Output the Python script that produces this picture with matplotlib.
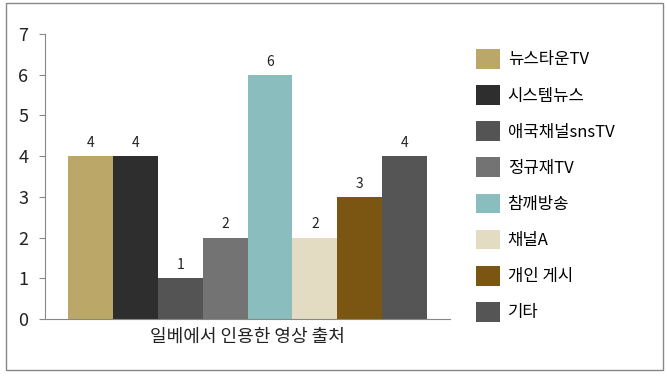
import numpy as np
import matplotlib.pyplot as plt
from matplotlib.patches import Rectangle

plt.rcParams['font.family'] = ['Noto Sans CJK KR', 'DejaVu Sans']

# dati
sources = ['뉴스타운TV', '시스템뉴스', '애국채널snsTV', '정규재TV', '참깨방송', '채널A', '개인 게시', '기타']
counts = [4, 4, 1, 2, 6, 2, 3, 4]
colors = ['#BBA768', '#2E2E2E', '#545454', '#737373', '#8ABDBD', '#E3DCC2', '#7B5612', '#555555']
xlabel = '일베에서 인용한 영상 출처'

fig = plt.figure(figsize=(6.67, 3.77), dpi=100)
ax = fig.add_axes([45 / 667, 1 - 319 / 377, (450 - 45) / 667, (319 - 34) / 377])

x = np.arange(len(counts))
bars = ax.bar(x, counts, width=1.0, color=colors, label=sources)
for xi, v in zip(x, counts):
    ax.text(xi, v + 0.15, str(v), ha='center', va='bottom', fontsize=10, color='#222222')

ax.set_xlim(-1.01, 8.01)
ax.set_ylim(0, 7)
ax.set_yticks(range(8))
ax.tick_params(axis='y', labelsize=13, length=4, color='#888888', pad=8, labelcolor='#222222')
ax.set_xticks([])
ax.set_xlabel(xlabel, fontsize=13, color='#222222', labelpad=6)
for s in ['top', 'right']:
    ax.spines[s].set_visible(False)
for s in ['left', 'bottom']:
    ax.spines[s].set_color('#888888')

ax.legend(bars, sources, loc='upper left', bbox_to_anchor=(476 / 667, 1 - 49 / 377),
          bbox_transform=fig.transFigure, frameon=False, fontsize=12,
          handlelength=1.45, handleheight=1.45, labelspacing=0.98, handletextpad=0.45,
          borderaxespad=0, borderpad=0)

# cornice esterna
fig.patches.append(Rectangle((6 / 667, 1 - 370 / 377), 657 / 667, 367 / 377,
                             transform=fig.transFigure, fill=False, edgecolor='#888888', lw=1))

fig.savefig('out.png', dpi=100)
